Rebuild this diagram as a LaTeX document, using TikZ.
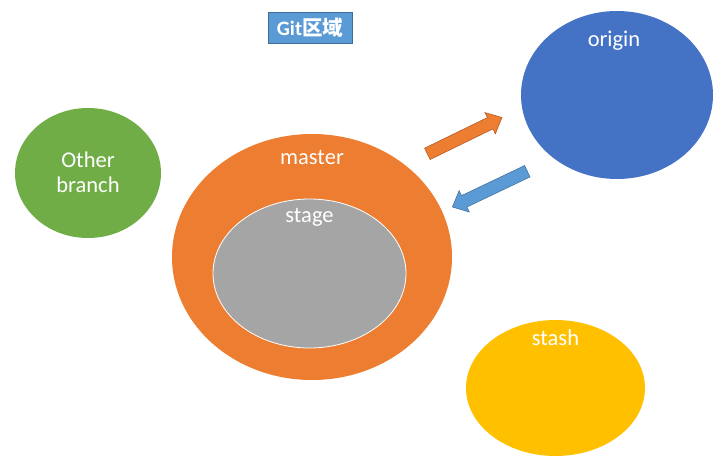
\documentclass[tikz,border=0pt]{standalone}
\usepackage{fontspec}
\setmainfont{Carlito}
\newfontfamily\cjk{Noto Sans CJK SC}
\usepackage{xcolor}
\usetikzlibrary{shapes.geometric,shapes.arrows,positioning}

\definecolor{gitorange}{HTML}{ED7D31}
\definecolor{gitblue}{HTML}{4472C4}
\definecolor{gitlight}{HTML}{5B9BD5}
\definecolor{gitgreen}{HTML}{70AD47}
\definecolor{gitgray}{HTML}{A5A5A5}
\definecolor{gitgold}{HTML}{FFC000}

\begin{document}
\begin{tikzpicture}[
    x=1pt, y=-1pt,
    every node/.style={font=\fontsize{22.5}{25}\selectfont},
    area/.style={ellipse, inner sep=0pt, outer sep=0pt},
    lbl/.style={text=white, inner sep=0pt, align=center},
    blockarrow/.style={single arrow, inner xsep=0pt, inner ysep=6pt, outer sep=0pt, minimum height=83pt,
        single arrow head extend=5.5pt, single arrow tip angle=84, line width=0.6pt}
]
\useasboundingbox (0,0) rectangle (726,463);

% regions
\node[area, fill=gitgreen, minimum width=146pt, minimum height=130pt] (other) at (88,173) {};
\node[area, fill=gitorange, minimum width=280pt, minimum height=246pt] (master) at (312,257) {};
\node[area, fill=gitgray, draw=white, line width=0.8pt, minimum width=193pt, minimum height=149pt] (stage) at (309.5,273.5) {};
\node[area, fill=gitblue, minimum width=192pt, minimum height=168pt] (origin) at (617,95) {};
\node[area, fill=gitgold, minimum width=179pt, minimum height=136pt] (stash) at (555.5,388) {};

% labels
\node[lbl] (otherlbl) at (other) [yshift=1pt] {Other\\branch};
\node[lbl] (masterlbl) at (master.north) [yshift=-23pt] {master};
\node[lbl] (stagelbl) at (stage.north) [yshift=-18pt] {stage};
\node[lbl] (originlbl) at (origin.north) [yshift=-30pt, xshift=-3pt] {origin};
\node[lbl] (stashlbl) at (stash.north) [yshift=-18pt] {stash};

% title
\node[draw=gitlight!70!black, fill=gitlight, text=white, line width=0.8pt, minimum width=84pt, minimum height=31pt,
    inner sep=0pt, font=\fontsize{20.5}{22}\selectfont\bfseries] (title) at (310,27.5) {Git{\cjk\bfseries 区域}};

% push / pull
\node[blockarrow, fill=gitorange, draw=gitorange!75!black, rotate=26] (push) at (461.5,137.2) {};
\node[blockarrow, fill=gitlight, draw=gitlight!75!black, rotate=205.5] (pull) at (493,187.6) {};

\end{tikzpicture}
\end{document}
